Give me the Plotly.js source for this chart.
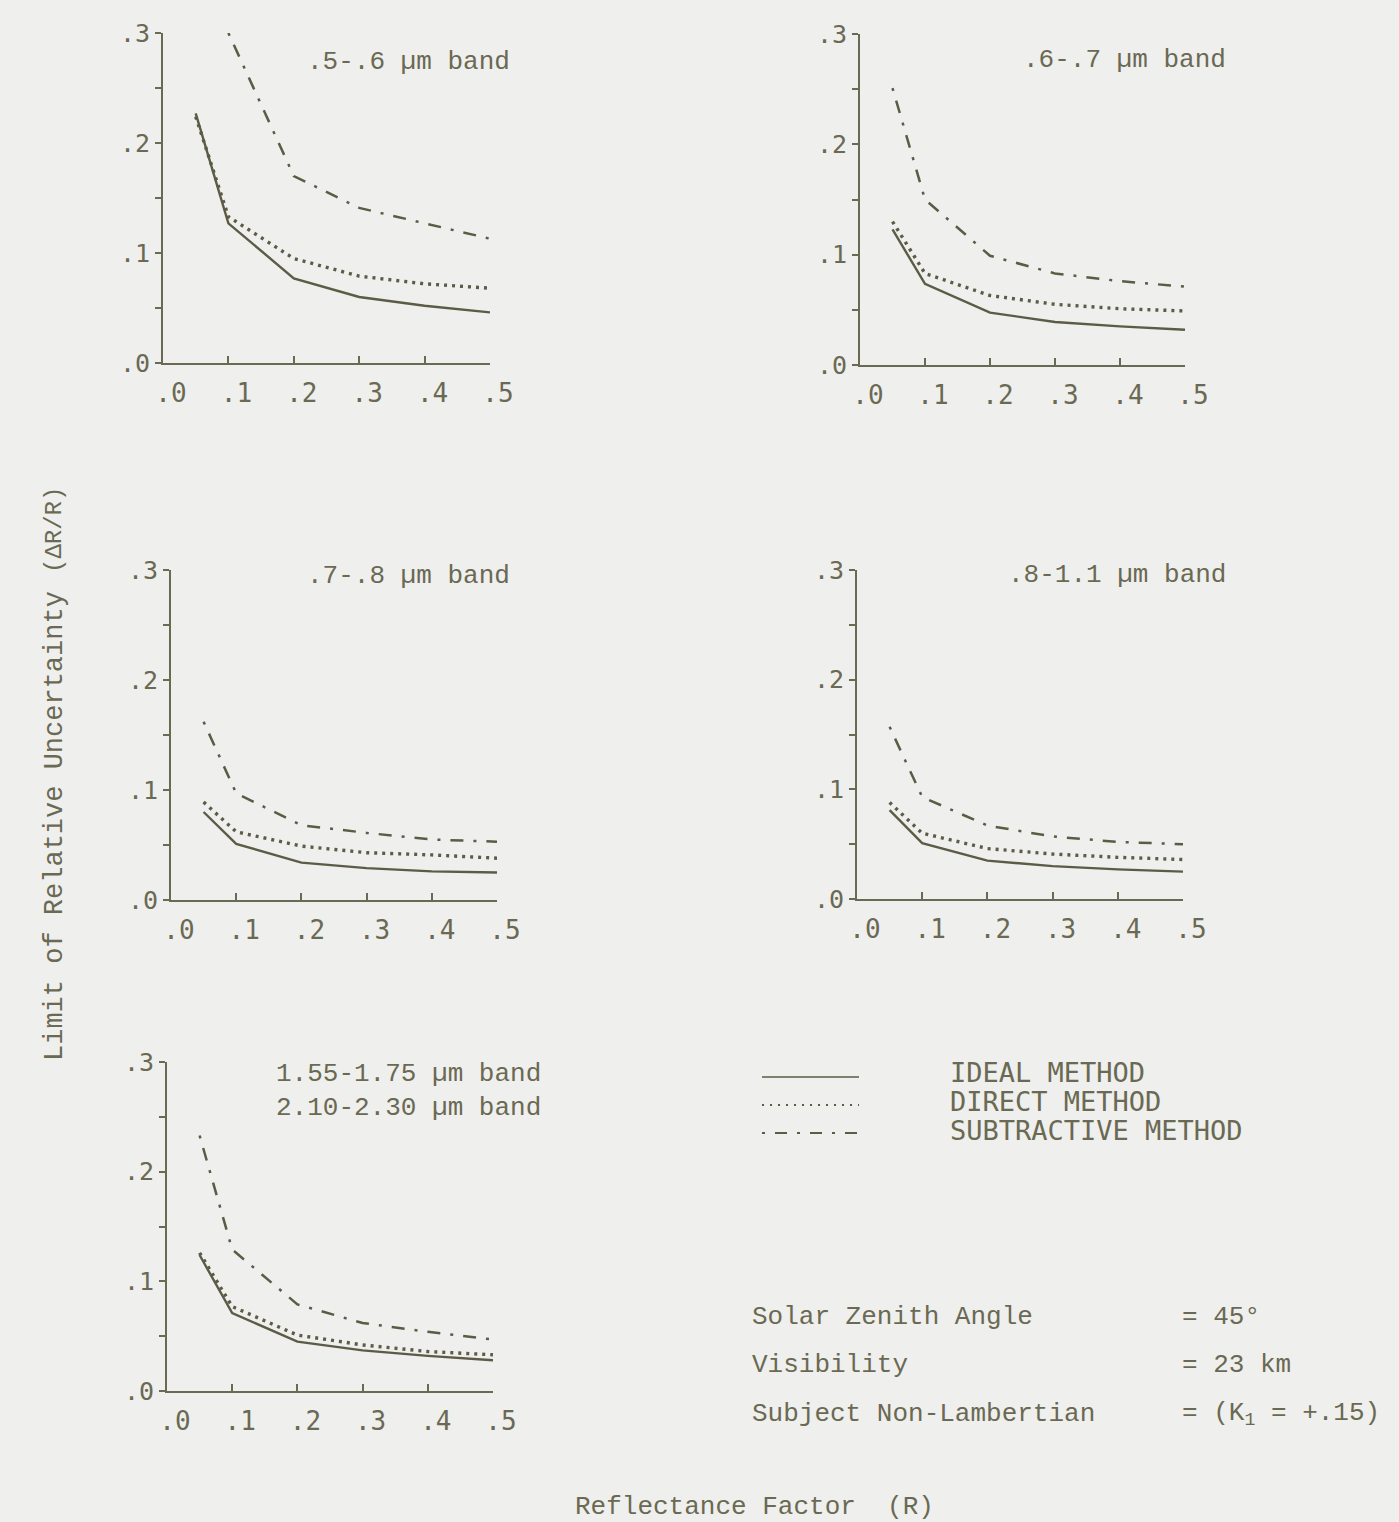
<!DOCTYPE html>
<html>
<head>
<meta charset="utf-8">
<script src="https://cdn.plot.ly/plotly-3.0.1.min.js"></script>
<style>
html,body{margin:0;padding:0;background:#efefed;}
#chart{width:1399px;height:1522px;}
</style>
</head>
<body>
<div id="chart"></div>
<script>
// ---------------- DATA ----------------
const reflectance = [0.05, 0.1, 0.2, 0.3, 0.4, 0.5];
const xTickVals = [0, 0.1, 0.2, 0.3, 0.4, 0.5];
const xTickText = ['.0', '.1', '.2', '.3', '.4', '.5'];
const yTickVals = [0, 0.1, 0.2, 0.3];
const yTickText = ['.0', '.1', '.2', '.3'];
const yAllTickVals = [0, 0.05, 0.1, 0.15, 0.2, 0.25, 0.3];
const methodNames = ['IDEAL METHOD', 'DIRECT METHOD', 'SUBTRACTIVE METHOD'];
const bandLabels = ['.5-.6 µm band', '.6-.7 µm band', '.7-.8 µm band', '.8-1.1 µm band',
                    '1.55-1.75 µm band<br>2.10-2.30 µm band'];

const band1Ideal       = [0.227, 0.127, 0.077, 0.060, 0.052, 0.046];
const band1Direct      = [0.224, 0.133, 0.095, 0.079, 0.072, 0.068];
const band1Subtractive = [null,  0.300, 0.170, 0.141, 0.127, 0.113];

const band2Ideal       = [0.123, 0.0735, 0.0475, 0.039, 0.035, 0.032];
const band2Direct      = [0.130, 0.083, 0.063, 0.055, 0.051, 0.049];
const band2Subtractive = [0.251, 0.150, 0.099, 0.083, 0.076, 0.071];

const band3Ideal       = [0.080, 0.051, 0.034, 0.029, 0.026, 0.025];
const band3Direct      = [0.089, 0.062, 0.049, 0.043, 0.041, 0.038];
const band3Subtractive = [0.162, 0.097, 0.068, 0.061, 0.055, 0.053];

const band4Ideal       = [0.081, 0.051, 0.035, 0.030, 0.027, 0.025];
const band4Direct      = [0.088, 0.060, 0.046, 0.041, 0.038, 0.036];
const band4Subtractive = [0.157, 0.093, 0.067, 0.057, 0.052, 0.050];

const band5Ideal       = [0.124, 0.071, 0.045, 0.037, 0.032, 0.028];
const band5Direct      = [0.126, 0.077, 0.051, 0.042, 0.036, 0.033];
const band5Subtractive = [0.233, 0.129, 0.079, 0.062, 0.054, 0.047];

const infoLabels = ['Solar Zenith Angle', 'Visibility', 'Subject Non-Lambertian'];
const infoValues = ['= 45°', '= 23 km', '= (K<sub>1</sub> = +.15)'];

// ---------------- STYLE / LAYOUT ----------------
const W = 1399, H = 1522;
const INK = '#6a6953';
const LINE = '#5c5b46';
const BG = '#efefed';
const SERIF_MONO = '"Courier New", "Liberation Mono", monospace';
const PLOT_FONT = '"DejaVu Sans Mono", monospace';
const px = v => v / W;
const py = v => 1 - v / H;

// panel boxes in pixels: [xLeft, xRight, yBottom, yTop]
const boxes = [
  [163, 490, 363, 33],
  [860, 1185, 365, 34],
  [171, 497, 900, 570],
  [857, 1183, 899, 570],
  [167, 493, 1391, 1062]
];
const titlePos = [[512, 62], [1228, 60], [512, 576], [1228, 575], [543, 1091]];

const bands = [
  [band1Ideal, band1Direct, band1Subtractive],
  [band2Ideal, band2Direct, band2Subtractive],
  [band3Ideal, band3Direct, band3Subtractive],
  [band4Ideal, band4Direct, band4Subtractive],
  [band5Ideal, band5Direct, band5Subtractive]
];
const dashes = ['solid', '3px,5px', '3px,10px,13px,10px'];
const widths = [2.4, 3.4, 2.5];

const traces = [];
const layout = {
  width: W, height: H,
  margin: {l: 0, r: 0, t: 0, b: 0},
  paper_bgcolor: BG, plot_bgcolor: 'rgba(0,0,0,0)',
  showlegend: false,
  font: {family: PLOT_FONT, color: INK},
  annotations: [], shapes: []
};

bands.forEach((series, i) => {
  const n = i + 1, m = i + 6;
  const b = boxes[i];
  const xd = [px(b[0]), px(b[1])];
  const yd = [py(b[2]), py(b[3])];
  series.forEach((vals, k) => {
    traces.push({
      type: 'scatter', mode: 'lines', x: reflectance, y: vals,
      xaxis: 'x' + n, yaxis: 'y' + n, name: methodNames[k],
      connectgaps: false,
      line: {color: LINE, width: widths[k], dash: dashes[k]},
      hoverinfo: 'skip'
    });
  });
  const common = {showgrid: false, zeroline: false, linecolor: INK, linewidth: 2,
                  tickcolor: INK, tickwidth: 2, fixedrange: true};
  layout['xaxis' + n] = Object.assign({}, common, {
    domain: xd, anchor: 'y' + n, range: [0, 0.5],
    tickmode: 'array', tickvals: xTickVals, ticktext: xTickText,
    ticks: 'inside', ticklen: 7, showline: true,
    tickfont: {family: PLOT_FONT, size: 26, color: INK},
    ticklabelshift: 8, ticklabelstandoff: 6
  });
  layout['yaxis' + n] = Object.assign({}, common, {
    domain: yd, anchor: 'x' + n, range: [0, 0.3],
    tickmode: 'array', tickvals: yTickVals, ticktext: yTickText,
    ticks: 'outside', ticklen: 6, showline: true,
    minor: {tickvals: [0.05, 0.15, 0.25], ticks: 'outside', ticklen: 6,
            tickcolor: INK, tickwidth: 2, showgrid: false},
    tickfont: {family: PLOT_FONT, size: 25, color: INK},
    ticklabelstandoff: 0
  });
  // overlay axes so tick marks cross the axis lines
  layout['xaxis' + m] = Object.assign({}, common, {
    overlaying: 'x' + n, anchor: 'y' + n, range: [0, 0.5], side: 'bottom',
    tickmode: 'array', tickvals: xTickVals, ticks: 'outside', ticklen: 4,
    showticklabels: false, showline: false
  });
  layout['yaxis' + m] = Object.assign({}, common, {
    overlaying: 'y' + n, anchor: 'x' + n, range: [0, 0.3], side: 'left',
    tickmode: 'array', tickvals: yAllTickVals, ticks: 'inside', ticklen: 6,
    showticklabels: false, showline: false
  });
  layout.annotations.push({
    xref: 'paper', yref: 'paper', x: px(titlePos[i][0]), y: py(titlePos[i][1]),
    xanchor: 'right', yanchor: 'middle', align: 'left', showarrow: false,
    text: bandLabels[i], font: {family: SERIF_MONO, size: 26, color: INK}
  });
});

// legend (line samples + labels)
const legendY = [1077, 1105, 1133];
const legendTextY = [1072, 1101, 1130];
methodNames.forEach((name, k) => {
  layout.shapes.push({
    type: 'line', xref: 'paper', yref: 'paper',
    x0: px(762), x1: px(859), y0: py(legendY[k]), y1: py(legendY[k]),
    line: {color: LINE, width: k === 0 ? 1.6 : 2.2,
           dash: k === 0 ? 'solid' : (k === 1 ? '2px,6px' : '3px,10px,12px,10px')}
  });
  layout.annotations.push({
    xref: 'paper', yref: 'paper', x: px(948), y: py(legendTextY[k]),
    xanchor: 'left', yanchor: 'middle', showarrow: false, text: name,
    font: {family: PLOT_FONT, size: 27, color: INK}
  });
});

// condition notes
const infoY = [1317, 1365, 1414];
infoLabels.forEach((lab, k) => {
  layout.annotations.push({
    xref: 'paper', yref: 'paper', x: px(750), y: py(infoY[k]),
    xanchor: 'left', yanchor: 'middle', showarrow: false, text: lab,
    font: {family: SERIF_MONO, size: 26, color: INK}
  });
  layout.annotations.push({
    xref: 'paper', yref: 'paper', x: px(1180), y: py(infoY[k]),
    xanchor: 'left', yanchor: 'middle', showarrow: false, text: infoValues[k],
    font: {family: SERIF_MONO, size: 26, color: INK}
  });
});

// axis titles
layout.annotations.push({
  xref: 'paper', yref: 'paper', x: px(755), y: py(1507),
  xanchor: 'center', yanchor: 'middle', showarrow: false,
  text: 'Reflectance Factor  (R)',
  font: {family: SERIF_MONO, size: 26, color: INK}
});
layout.annotations.push({
  xref: 'paper', yref: 'paper', x: px(55), y: py(826),
  xanchor: 'center', yanchor: 'middle', showarrow: false, textangle: -90,
  text: 'Limit of Relative Uncertainty',
  font: {family: SERIF_MONO, size: 27, color: INK}
});
layout.annotations.push({
  xref: 'paper', yref: 'paper', x: px(55), y: py(530),
  xanchor: 'center', yanchor: 'middle', showarrow: false, textangle: -90,
  text: '(ΔR/R)',
  font: {family: SERIF_MONO, size: 24, color: INK}
});

Plotly.newPlot('chart', traces, layout, {staticPlot: true, displayModeBar: false});
</script>
</body>
</html>
